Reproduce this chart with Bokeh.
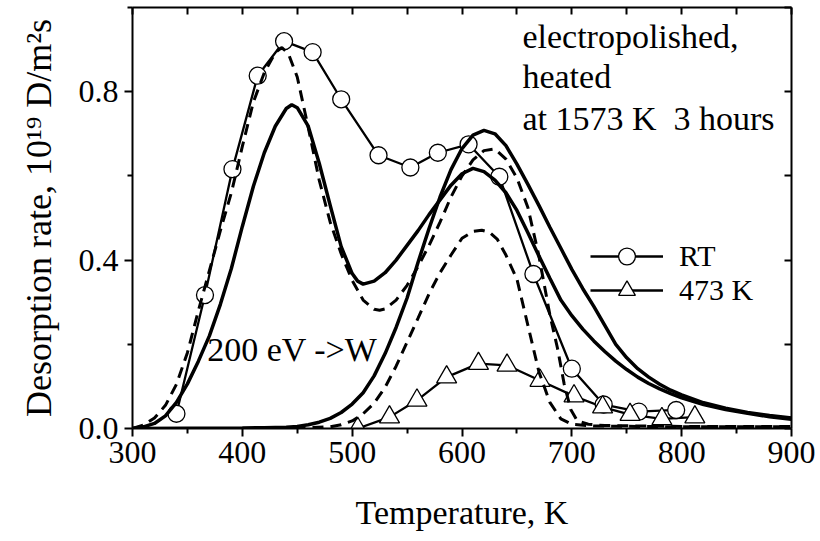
from bokeh.plotting import figure
from bokeh.models import (LinearAxis, Range1d, Label, Legend, LegendItem,
                          FixedTicker, PrintfTickFormatter)
from bokeh.embed import file_html
from bokeh.resources import INLINE

# ---- measured data: RT implantation ----
rt_T = [340, 366, 391, 414, 438, 464, 490, 524, 553, 578, 606, 634, 665, 700, 729, 761, 795]
rt_rate = [0.035, 0.317, 0.616, 0.838, 0.920, 0.894, 0.782, 0.649, 0.620, 0.655, 0.675,
           0.598, 0.367, 0.142, 0.057, 0.040, 0.044]

# ---- measured data: 473 K implantation ----
k473_T = [505, 534, 559, 586, 615, 641, 671, 702, 728, 753, 782, 812]
k473_rate = [0.000, 0.027, 0.067, 0.122, 0.154, 0.150, 0.114, 0.077, 0.051, 0.033, 0.023, 0.027]

# ---- model curve: solid, two peaks ----
s1_T = [300, 310, 320, 330, 340, 350, 360, 370, 380, 390, 400, 410, 420, 430, 440, 445, 450,
        460, 470, 480, 490, 500, 505, 510, 520, 530, 540, 550, 560, 570, 580, 590, 600, 610,
        620, 630, 640, 650, 660, 670, 680, 690, 700, 710, 720, 730, 740, 750, 760, 770, 780,
        790, 800, 820, 840, 860, 880, 900]
s1_rate = [0.000, 0.004, 0.012, 0.030, 0.062, 0.106, 0.160, 0.220, 0.295, 0.380, 0.480, 0.575,
           0.655, 0.718, 0.760, 0.769, 0.762, 0.718, 0.630, 0.530, 0.432, 0.368, 0.350, 0.343,
           0.350, 0.370, 0.400, 0.435, 0.470, 0.508, 0.543, 0.578, 0.605, 0.618, 0.610, 0.590,
           0.560, 0.518, 0.465, 0.410, 0.357, 0.305, 0.268, 0.236, 0.208, 0.183, 0.160, 0.140,
           0.122, 0.107, 0.094, 0.083, 0.073, 0.057, 0.045, 0.036, 0.028, 0.022]

# ---- model curve: solid, single high-temperature peak ----
s2_T = [300, 400, 420, 440, 450, 460, 470, 480, 490, 500, 510, 520, 530, 540, 550, 560, 570,
        580, 590, 600, 610, 620, 630, 640, 650, 660, 670, 680, 690, 700, 710, 720, 730, 740,
        750, 760, 770, 780, 790, 800, 820, 840, 860, 880, 900]
s2_rate = [0.000, 0.001, 0.002, 0.003, 0.005, 0.009, 0.015, 0.024, 0.038, 0.058, 0.085, 0.125,
           0.178, 0.240, 0.310, 0.395, 0.475, 0.550, 0.615, 0.665, 0.697, 0.708, 0.700, 0.672,
           0.628, 0.580, 0.530, 0.478, 0.428, 0.378, 0.332, 0.290, 0.245, 0.200, 0.168, 0.142,
           0.122, 0.105, 0.091, 0.080, 0.061, 0.048, 0.038, 0.031, 0.025]

# ---- model curve: dashed, two peaks ----
d1_T = [300, 310, 320, 330, 340, 350, 360, 370, 380, 390, 400, 410, 420, 430, 436, 442, 450,
        460, 470, 480, 490, 500, 510, 520, 525, 530, 540, 550, 560, 570, 580, 590, 600, 610,
        620, 630, 640, 650, 660, 670, 680, 687, 693, 699, 705, 715, 730, 760, 800, 850, 900]
d1_rate = [0.000, 0.008, 0.025, 0.055, 0.105, 0.180, 0.280, 0.375, 0.470, 0.560, 0.670, 0.775,
           0.845, 0.893, 0.905, 0.890, 0.835, 0.715, 0.590, 0.490, 0.415, 0.352, 0.305, 0.283,
           0.281, 0.284, 0.305, 0.340, 0.385, 0.435, 0.490, 0.550, 0.600, 0.638, 0.660, 0.664,
           0.640, 0.595, 0.525, 0.410, 0.270, 0.190, 0.106, 0.045, 0.018, 0.010, 0.007, 0.006,
           0.005, 0.005, 0.005]

# ---- model curve: dashed, single high-temperature peak ----
d2_T = [300, 400, 450, 480, 490, 500, 510, 520, 530, 540, 550, 560, 570, 580, 590, 600, 610,
        618, 625, 632, 640, 650, 660, 670, 680, 690, 700, 720, 760, 800, 900]
d2_rate = [0.000, 0.000, 0.001, 0.004, 0.009, 0.018, 0.035, 0.060, 0.098, 0.148, 0.205, 0.262,
           0.320, 0.370, 0.412, 0.452, 0.468, 0.471, 0.466, 0.450, 0.412, 0.355, 0.245, 0.135,
           0.062, 0.023, 0.010, 0.006, 0.005, 0.004, 0.004]

x_major = [300, 400, 500, 600, 700, 800, 900]
x_minor = [350, 450, 550, 650, 750, 850]
y_major = [0.0, 0.4, 0.8]
y_minor = [0.2, 0.6, 1.0]

FONT = "'Liberation Serif', 'Times New Roman', serif"
FS_TICK = "32px"
FS_NOTE = "34px"
FS_LEG = "30px"

p = figure(width=820, height=541, x_range=Range1d(300, 900), y_range=Range1d(0, 1.0),
           output_backend="svg", toolbar_location=None,
           min_border_left=132, min_border_right=29, min_border_top=7, min_border_bottom=113,
           background_fill_color="white", border_fill_color="white")
p.outline_line_color = None
p.xgrid.visible = False
p.ygrid.visible = False

def style_axis(ax, title_size):
    ax.axis_line_width = 2
    ax.axis_line_color = "black"
    ax.major_tick_line_width = 2
    ax.minor_tick_line_width = 2
    ax.major_tick_out, ax.major_tick_in = 8, 0
    ax.minor_tick_out, ax.minor_tick_in = 5, 0
    ax.major_label_text_font = FONT
    ax.major_label_text_font_size = FS_TICK
    ax.major_label_text_color = "black"
    ax.axis_label_text_font = FONT
    ax.axis_label_text_font_size = title_size
    ax.axis_label_text_font_style = "normal"
    ax.axis_label_text_color = "black"

xb = p.xaxis[0]
xb.ticker = FixedTicker(ticks=x_major, minor_ticks=x_minor)
xb.formatter = PrintfTickFormatter(format="%d")
xb.axis_label = "Temperature, K"
style_axis(xb, "34px")
xb.major_label_standoff = 5
xb.axis_label_standoff = 28

yl = p.yaxis[0]
yl.ticker = FixedTicker(ticks=y_major, minor_ticks=y_minor)
yl.formatter = PrintfTickFormatter(format="%.1f")
yl.axis_label = "Desorption rate, 10\u00b9\u2079 D/m\u00b2s"
style_axis(yl, "36px")
yl.major_label_standoff = 6
yl.axis_label_standoff = 17

# mirrored frame sides: tick marks only (inward), no labels
def mirror_axis(ticks):
    ax = LinearAxis(ticker=FixedTicker(ticks=[], minor_ticks=ticks))
    ax.axis_line_width = 2
    ax.axis_line_color = "black"
    ax.minor_tick_line_width = 2
    ax.minor_tick_out, ax.minor_tick_in = 0, 7
    ax.major_tick_out, ax.major_tick_in = 0, 0
    ax.major_label_standoff = 0
    return ax

p.add_layout(mirror_axis(x_major + x_minor), "above")
p.add_layout(mirror_axis(y_major + y_minor), "right")

# data connecting lines and markers
rt_line = p.line(rt_T, rt_rate, line_color="black", line_width=2.3)
k_line = p.line(k473_T, k473_rate, line_color="black", line_width=2.3)
rt_pts = p.scatter(rt_T, rt_rate, marker="circle", size=17, fill_color="white",
                   line_color="black", line_width=1.3)
k_pts = p.scatter(k473_T, k473_rate, marker="triangle", size=20, fill_color="white",
                  line_color="black", line_width=1.3)

# model curves
p.line(s1_T, s1_rate, line_color="black", line_width=3.5)
p.line(s2_T, s2_rate, line_color="black", line_width=3.5)
p.line(d1_T, d1_rate, line_color="black", line_width=3, line_dash="11 7")
p.line(d2_T, d2_rate, line_color="black", line_width=3, line_dash="11 7")

def make_legend(label, rends, ybottom):
    return Legend(items=[LegendItem(label=label, renderers=rends)],
                  location=(458, ybottom), border_line_color=None, background_fill_alpha=0,
                  padding=0, margin=0, spacing=0, glyph_width=73, glyph_height=42,
                  label_height=42, label_standoff=16, label_text_font=FONT,
                  label_text_font_size=FS_LEG, label_text_color="black")

p.add_layout(make_legend("RT", [rt_line, rt_pts], 151))
p.add_layout(make_legend("473 K", [k_line, k_pts], 117))

for txt, yv in [("electropolished,", 0.932), ("heated", 0.836),
                ("at 1573 K\u00a0 3 hours", 0.736)]:
    p.add_layout(Label(x=655, y=yv, text=txt, text_font=FONT, text_font_size=FS_NOTE,
                       text_baseline="middle", text_color="black"))
p.add_layout(Label(x=368, y=0.188, text="200 eV ->W", text_font=FONT,
                   text_font_size=FS_NOTE, text_baseline="middle", text_color="black"))

open("out.html", "w").write(file_html(p, INLINE))
